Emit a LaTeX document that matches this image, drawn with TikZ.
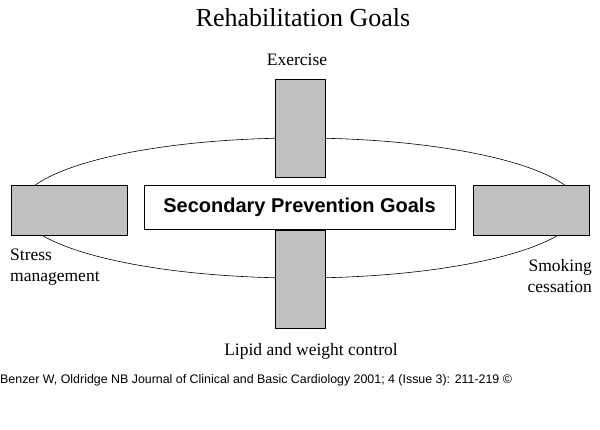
\documentclass[tikz,border=0pt]{standalone}
\usepackage{fontspec}
\setmainfont{Liberation Serif}
\setsansfont{Liberation Sans}
\usetikzlibrary{positioning}
\definecolor{boxgray}{RGB}{192,192,192}
\tikzset{
    goalbox/.style = {rectangle, draw=black, fill=boxgray, thick, inner sep=0pt},
    goaltext/.style = {font=\fontsize{17.5pt}{21pt}\selectfont, inner sep=0pt}
}
\begin{document}
\begin{tikzpicture}[x=1pt,y=-1pt]
\useasboundingbox (0,0) rectangle (600,429);
\node[font=\fontsize{26pt}{30pt}\selectfont] (title) at (303,18) {Rehabilitation Goals};
\draw[semithick] (300,208) ellipse [x radius=280, y radius=70];
%
\node[goalbox, minimum width=50pt, minimum height=98pt] (top) at (300,128) {};
\node[goalbox, minimum width=50pt, minimum height=98pt] (bottom) at (300,279) {};
\node[goalbox, minimum width=116pt, minimum height=50pt] (left) at (69,210) {};
\node[goalbox, minimum width=116pt, minimum height=50pt] (right) at (531,210) {};
\node[rectangle, draw=black, thick, fill=white, minimum width=311pt, minimum height=44pt,
      font=\sffamily\bfseries\fontsize{20pt}{24pt}\selectfont] (center) at (299.5,207) {Secondary Prevention Goals};
%
\node[goaltext] (exercise) at (297,60) {Exercise};
\node[goaltext, align=left, anchor=north west] (stress) at (10,249) {Stress\\management};
\node[goaltext, align=right, anchor=north east] (smoking) at (592,259) {Smoking\\cessation};
\node[goaltext] (lipid) at (311,351) {Lipid and weight control};
%
\node[font=\sffamily\fontsize{12.4pt}{14pt}\selectfont, anchor=west, inner sep=0pt] (credit) at (0,380)
  {Benzer W, Oldridge NB Journal of Clinical and Basic Cardiology 2001; 4 (Issue 3): 211-219 ©};
\end{tikzpicture}
\end{document}
